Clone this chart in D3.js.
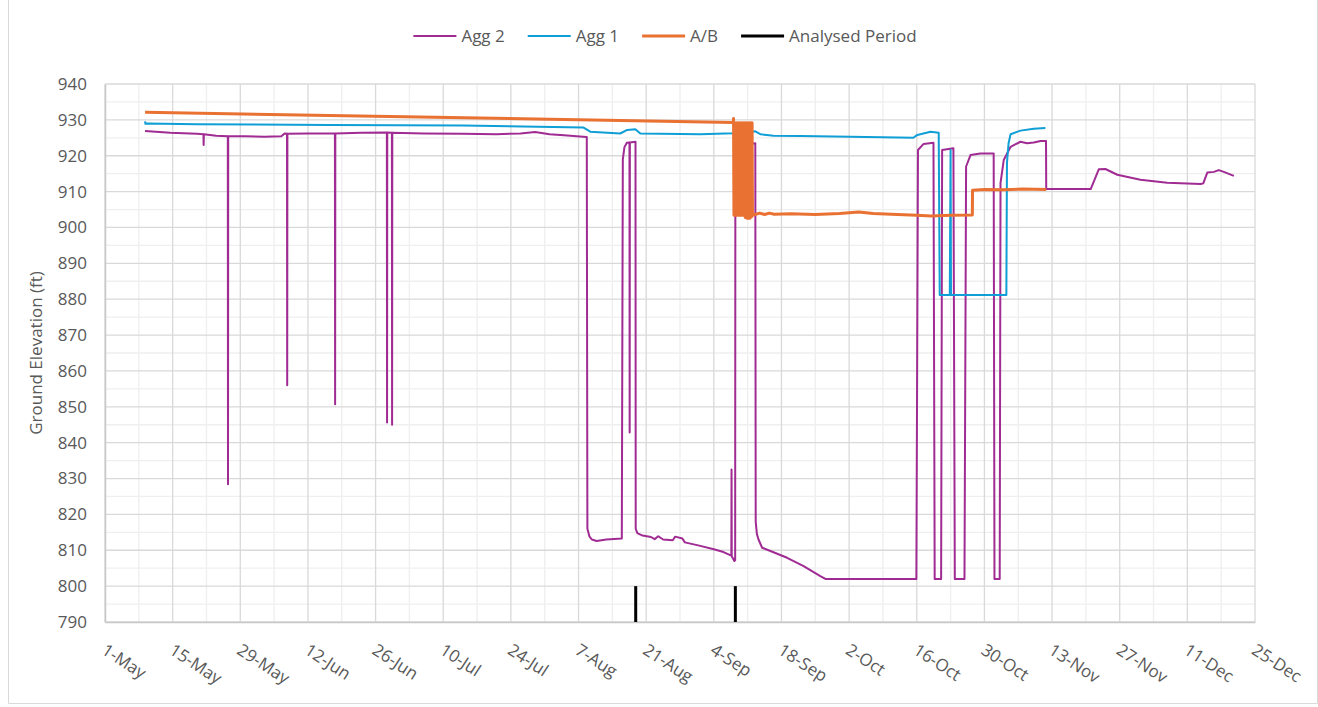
<!DOCTYPE html>
<html>
<head>
<meta charset="utf-8">
<script src="https://cdn.jsdelivr.net/npm/d3@7/dist/d3.min.js"></script>
<style>
  html, body { margin: 0; padding: 0; background: #ffffff; }
  svg { display: block; font-family: "Open Sans", "Noto Sans", sans-serif; }
</style>
</head>
<body>
<svg id="chart" width="1318" height="707"></svg>
<script>
// ---- Data: ground elevation readings (ft) ----
const agg2 = [
  ["2024-05-09 07:00", 926.9], ["2024-05-14 12:00", 926.4], ["2024-05-20 00:00", 926.1],
  ["2024-05-21 09:00", 926.0], ["2024-05-21 10:00", 923.0], ["2024-05-21 11:00", 926.0],
  ["2024-05-24 00:00", 925.6], ["2024-05-26 10:00", 925.4], ["2024-05-26 11:00", 828.4],
  ["2024-05-26 12:00", 925.4], ["2024-05-30 00:00", 925.4], ["2024-06-03 00:00", 925.3],
  ["2024-06-06 12:00", 925.4], ["2024-06-07 04:00", 926.2], ["2024-06-07 16:00", 926.1],
  ["2024-06-07 17:00", 856.0], ["2024-06-07 18:00", 926.1], ["2024-06-12 00:00", 926.2],
  ["2024-06-17 14:00", 926.2], ["2024-06-17 15:00", 850.7], ["2024-06-17 16:00", 926.2],
  ["2024-06-23 00:00", 926.4], ["2024-06-28 08:00", 926.5], ["2024-06-28 09:00", 845.6],
  ["2024-06-28 10:00", 926.5], ["2024-06-29 09:00", 926.4], ["2024-06-29 10:00", 845.0],
  ["2024-06-29 11:00", 926.4], ["2024-07-06 00:00", 926.2], ["2024-07-14 00:00", 926.1],
  ["2024-07-21 00:00", 926.0], ["2024-07-26 00:00", 926.2], ["2024-07-29 00:00", 926.6],
  ["2024-08-01 00:00", 926.0], ["2024-08-04 00:00", 925.7], ["2024-08-07 23:00", 925.3],
  ["2024-08-08 17:00", 925.2], ["2024-08-08 20:00", 816.0], ["2024-08-09 06:00", 813.9],
  ["2024-08-09 18:00", 813.0], ["2024-08-10 18:00", 812.6], ["2024-08-12 18:00", 813.0],
  ["2024-08-15 23:00", 813.3], ["2024-08-16 04:00", 919.0], ["2024-08-16 12:00", 922.4],
  ["2024-08-17 00:00", 923.6], ["2024-08-17 13:00", 923.7], ["2024-08-17 14:00", 842.8],
  ["2024-08-17 15:00", 923.7], ["2024-08-18 19:00", 923.9], ["2024-08-18 20:00", 816.0],
  ["2024-08-19 04:00", 814.8], ["2024-08-20 06:00", 814.1], ["2024-08-22 00:00", 813.7],
  ["2024-08-22 18:00", 813.1], ["2024-08-23 12:00", 813.9], ["2024-08-24 12:00", 813.0],
  ["2024-08-26 12:00", 812.8], ["2024-08-27 00:00", 813.8], ["2024-08-28 12:00", 813.3],
  ["2024-08-29 00:00", 812.2], ["2024-09-01 00:00", 811.3], ["2024-09-04 00:00", 810.3],
  ["2024-09-06 00:00", 809.5], ["2024-09-07 15:00", 808.5], ["2024-09-07 16:00", 832.5],
  ["2024-09-07 17:00", 808.3], ["2024-09-08 06:00", 807.0], ["2024-09-08 10:00", 807.2],
  ["2024-09-08 11:00", 918.0], ["2024-09-08 18:00", 921.5], ["2024-09-09 12:00", 922.4],
  ["2024-09-11 00:00", 923.2], ["2024-09-12 14:00", 923.5], ["2024-09-12 16:00", 818.0],
  ["2024-09-12 22:00", 814.5], ["2024-09-13 06:00", 813.0], ["2024-09-14 00:00", 810.7],
  ["2024-09-15 17:00", 809.8], ["2024-09-19 04:00", 807.9], ["2024-09-22 14:00", 805.6],
  ["2024-09-26 01:00", 802.8], ["2024-09-27 02:00", 802.0], ["2024-10-15 22:00", 802.0],
  ["2024-10-16 06:00", 921.6], ["2024-10-17 10:00", 923.3], ["2024-10-19 11:00", 923.6],
  ["2024-10-19 17:00", 802.0], ["2024-10-21 01:00", 802.0], ["2024-10-21 06:00", 921.6],
  ["2024-10-23 14:00", 922.1], ["2024-10-23 21:00", 802.0], ["2024-10-25 21:00", 802.0],
  ["2024-10-26 05:00", 917.0], ["2024-10-27 03:00", 920.2], ["2024-10-29 04:00", 920.6],
  ["2024-10-31 22:00", 920.6], ["2024-11-01 02:00", 802.0], ["2024-11-02 04:00", 802.0],
  ["2024-11-02 08:00", 912.4], ["2024-11-03 00:00", 918.8], ["2024-11-04 10:00", 922.5],
  ["2024-11-06 11:00", 923.9], ["2024-11-07 20:00", 923.5], ["2024-11-09 05:00", 923.7],
  ["2024-11-10 15:00", 924.1], ["2024-11-11 18:00", 924.1], ["2024-11-11 19:00", 910.7],
  ["2024-11-21 00:00", 910.7], ["2024-11-22 16:00", 916.2], ["2024-11-24 01:00", 916.3],
  ["2024-11-26 12:00", 914.7], ["2024-12-01 07:00", 913.3], ["2024-12-06 20:00", 912.5],
  ["2024-12-13 18:00", 912.1], ["2024-12-14 07:00", 912.3], ["2024-12-15 03:00", 915.3],
  ["2024-12-16 12:00", 915.5], ["2024-12-17 12:00", 916.0], ["2024-12-18 13:00", 915.5],
  ["2024-12-20 15:00", 914.4]
];

const agg1 = [
  ["2024-05-09 07:00", 929.6], ["2024-05-09 09:00", 928.9], ["2024-05-09 18:00", 929.0],
  ["2024-05-20 00:00", 928.8], ["2024-06-16 14:00", 928.6], ["2024-07-14 03:00", 928.4],
  ["2024-08-07 23:00", 927.9], ["2024-08-09 10:00", 926.7], ["2024-08-15 15:00", 926.2],
  ["2024-08-17 02:00", 927.2], ["2024-08-18 18:00", 927.4], ["2024-08-19 19:00", 926.2],
  ["2024-09-01 05:00", 926.0], ["2024-09-08 01:00", 926.3], ["2024-09-11 22:00", 926.7],
  ["2024-09-12 14:00", 926.8], ["2024-09-13 15:00", 926.0], ["2024-09-16 08:00", 925.6],
  ["2024-09-21 22:00", 925.5], ["2024-10-02 06:00", 925.3], ["2024-10-15 07:00", 925.0],
  ["2024-10-16 03:00", 925.8], ["2024-10-18 20:00", 926.7], ["2024-10-20 13:00", 926.4],
  ["2024-10-20 18:00", 881.2], ["2024-10-22 20:00", 881.2], ["2024-10-23 00:00", 921.6],
  ["2024-10-23 02:00", 881.2], ["2024-11-03 13:00", 881.2], ["2024-11-03 16:00", 918.0],
  ["2024-11-04 00:00", 923.5], ["2024-11-04 10:00", 926.0], ["2024-11-06 11:00", 927.0],
  ["2024-11-09 05:00", 927.5], ["2024-11-11 15:00", 927.7]
];

const ab = [
  ["2024-05-09 07:00", 932.1], ["2024-09-08 01:00", 929.3],
  // sensor switching rapidly between the two levels
  ["2024-09-08 02:00", 930.4], ["2024-09-08 04:00", 903.4], ["2024-09-08 08:00", 929.2],
  ["2024-09-08 12:00", 903.4], ["2024-09-08 16:00", 929.2], ["2024-09-08 20:00", 903.4],
  ["2024-09-09 00:00", 929.2], ["2024-09-09 04:00", 903.4], ["2024-09-09 08:00", 929.2],
  ["2024-09-09 10:00", 903.4], ["2024-09-09 16:00", 929.2], ["2024-09-09 20:00", 903.4],
  ["2024-09-10 00:00", 929.2], ["2024-09-10 02:00", 903.4], ["2024-09-10 08:00", 929.2],
  ["2024-09-10 12:00", 902.8], ["2024-09-10 16:00", 929.2], ["2024-09-10 20:00", 902.6],
  ["2024-09-11 00:00", 929.2], ["2024-09-11 04:00", 902.6], ["2024-09-11 08:00", 929.2],
  ["2024-09-11 12:00", 902.6], ["2024-09-11 16:00", 929.2], ["2024-09-11 20:00", 903.0],
  ["2024-09-11 22:00", 929.2], ["2024-09-12 00:00", 903.4],
  ["2024-09-12 12:00", 903.6], ["2024-09-13 12:00", 904.0], ["2024-09-14 12:00", 903.6],
  ["2024-09-15 12:00", 904.0], ["2024-09-16 12:00", 903.7], ["2024-09-20 00:00", 903.8],
  ["2024-09-25 00:00", 903.6], ["2024-09-30 00:00", 903.9], ["2024-10-04 00:00", 904.3],
  ["2024-10-07 00:00", 903.9], ["2024-10-12 00:00", 903.6], ["2024-10-16 00:00", 903.4],
  ["2024-10-19 00:00", 903.2], ["2024-10-23 00:00", 903.4], ["2024-10-27 12:00", 903.5],
  ["2024-10-27 13:00", 910.4], ["2024-10-30 00:00", 910.6], ["2024-11-03 00:00", 910.5],
  ["2024-11-07 00:00", 910.7], ["2024-11-11 19:00", 910.6]
];

// Analysed period markers (start and end), drawn across the bottom band
const analysedDates = ["2024-08-18 20:00", "2024-09-08 11:00"];
const analysedBand = [790, 800];

// Axis ticks
const xTickLabels = ["2024-05-01", "2024-05-15", "2024-05-29", "2024-06-12", "2024-06-26",
  "2024-07-10", "2024-07-24", "2024-08-07", "2024-08-21", "2024-09-04", "2024-09-18",
  "2024-10-02", "2024-10-16", "2024-10-30", "2024-11-13", "2024-11-27", "2024-12-11", "2024-12-25"];
const yTicks = [790, 800, 810, 820, 830, 840, 850, 860, 870, 880, 890, 900, 910, 920, 930, 940];

const seriesNames = ["Agg 2", "Agg 1", "A/B", "Analysed Period"];
const seriesColors = ["#A02B93", "#0F9ED5", "#E97132", "#000000"];
const seriesWidths = [2, 2, 3, 3];

// ---- Layout ----
const plot = { left: 105, right: 1255, top: 84, bottom: 622 };
const textColor = "#595959";

const parseTime = d3.timeParse("%Y-%m-%d %H:%M");
const parseDay = d3.timeParse("%Y-%m-%d");
const xTicks = xTickLabels.map(parseDay);

const x = d3.scaleTime()
  .domain([xTicks[0], xTicks[xTicks.length - 1]])
  .range([plot.left, plot.right]);
const y = d3.scaleLinear()
  .domain([yTicks[0], yTicks[yTicks.length - 1]])
  .range([plot.bottom, plot.top]);

const svg = d3.select("#chart");

// Outer chart frame
svg.append("path")
  .attr("d", "M8.5,0 V703.5 H1317.5 V0")
  .attr("fill", "none")
  .attr("stroke", "#d9d9d9")
  .attr("stroke-width", 1);

// ---- Gridlines ----
const grid = svg.append("g");
// minor vertical lines: weekly
const minorDays = d3.range(7, 238, 14).map(i => d3.timeDay.offset(xTicks[0], i));
grid.selectAll("line.vminor").data(minorDays).join("line")
  .attr("x1", d => x(d)).attr("x2", d => x(d))
  .attr("y1", plot.top).attr("y2", plot.bottom)
  .attr("stroke", "#efefef").attr("stroke-width", 1.3);
// minor horizontal lines: every 5 ft
const minorY = d3.range(795, 940, 10);
grid.selectAll("line.hminor").data(minorY).join("line")
  .attr("x1", plot.left).attr("x2", plot.right)
  .attr("y1", d => y(d)).attr("y2", d => y(d))
  .attr("stroke", "#efefef").attr("stroke-width", 1.3);
// major vertical lines
grid.selectAll("line.vmajor").data(xTicks).join("line")
  .attr("x1", d => x(d)).attr("x2", d => x(d))
  .attr("y1", plot.top).attr("y2", plot.bottom)
  .attr("stroke", "#d9d9d9").attr("stroke-width", 1.3);
// major horizontal lines
grid.selectAll("line.hmajor").data(yTicks).join("line")
  .attr("x1", plot.left).attr("x2", plot.right)
  .attr("y1", d => y(d)).attr("y2", d => y(d))
  .attr("stroke", "#d9d9d9").attr("stroke-width", 1.3);

// ---- Axes ----
const yAxis = svg.append("g")
  .attr("transform", `translate(${plot.left},0)`)
  .call(d3.axisLeft(y).tickValues(yTicks).tickSize(0).tickPadding(18).tickFormat(d3.format("d")));
yAxis.select(".domain").attr("stroke", "#c8c8c8").attr("stroke-width", 1.5);
yAxis.selectAll("text")
  .attr("fill", textColor)
  .style("font-size", "17px")
  .style("font-family", "'Open Sans', sans-serif");

const xAxis = svg.append("g")
  .attr("transform", `translate(0,${plot.bottom})`)
  .call(d3.axisBottom(x).tickValues(xTicks).tickSize(0).tickFormat(d3.timeFormat("%-d-%b")));
xAxis.select(".domain").attr("stroke", "#c8c8c8").attr("stroke-width", 1.5);
xAxis.selectAll("text")
  .attr("fill", textColor)
  .attr("x", 0).attr("y", 0).attr("dy", 0)
  .attr("text-anchor", "start")
  .attr("transform", "translate(-5,31) rotate(33)")
  .style("font-size", "17px")
  .style("font-family", "'Open Sans', sans-serif");

// Axis title
svg.append("text")
  .attr("transform", `translate(42,${(plot.top + plot.bottom) / 2}) rotate(-90)`)
  .attr("text-anchor", "middle")
  .attr("fill", textColor)
  .style("font-size", "17px")
  .text("Ground Elevation (ft)");

// ---- Series ----
const line = d3.line()
  .x(d => x(parseTime(d[0])))
  .y(d => y(d[1]));

const seriesData = [agg2, agg1, ab];
const lines = svg.append("g").attr("fill", "none")
  .attr("stroke-linejoin", "round").attr("stroke-linecap", "butt");
seriesData.forEach((data, i) => {
  lines.append("path")
    .attr("d", line(data))
    .attr("stroke", seriesColors[i])
    .attr("stroke-width", seriesWidths[i]);
});

// Analysed period markers
lines.selectAll("path.analysed")
  .data(analysedDates)
  .join("path")
  .attr("d", t => line(analysedBand.map(v => [t, v])))
  .attr("stroke", seriesColors[3])
  .attr("stroke-width", seriesWidths[3]);

// ---- Legend ----
const legend = svg.append("g").attr("transform", "translate(0,36)");
const lineLen = 43, gapText = 5, gapItem = 23;
const items = legend.selectAll("g").data(seriesNames).join("g");
items.append("line")
  .attr("x1", 0).attr("x2", lineLen).attr("y1", 0).attr("y2", 0)
  .attr("stroke", (d, i) => seriesColors[i])
  .attr("stroke-width", (d, i) => seriesWidths[i]);
items.append("text")
  .attr("x", lineLen + gapText).attr("y", 0).attr("dy", "0.35em")
  .attr("fill", textColor)
  .style("font-size", "17px")
  .text(d => d);
// flow the legend items horizontally and centre them
let cursor = 0;
const offsets = [];
items.each(function () {
  const w = lineLen + gapText + this.querySelector("text").getComputedTextLength();
  offsets.push(cursor);
  cursor += w + gapItem;
});
const totalW = cursor - gapItem;
const startX = 665 - totalW / 2;
items.attr("transform", (d, i) => `translate(${startX + offsets[i]},0)`);
</script>
</body>
</html>
